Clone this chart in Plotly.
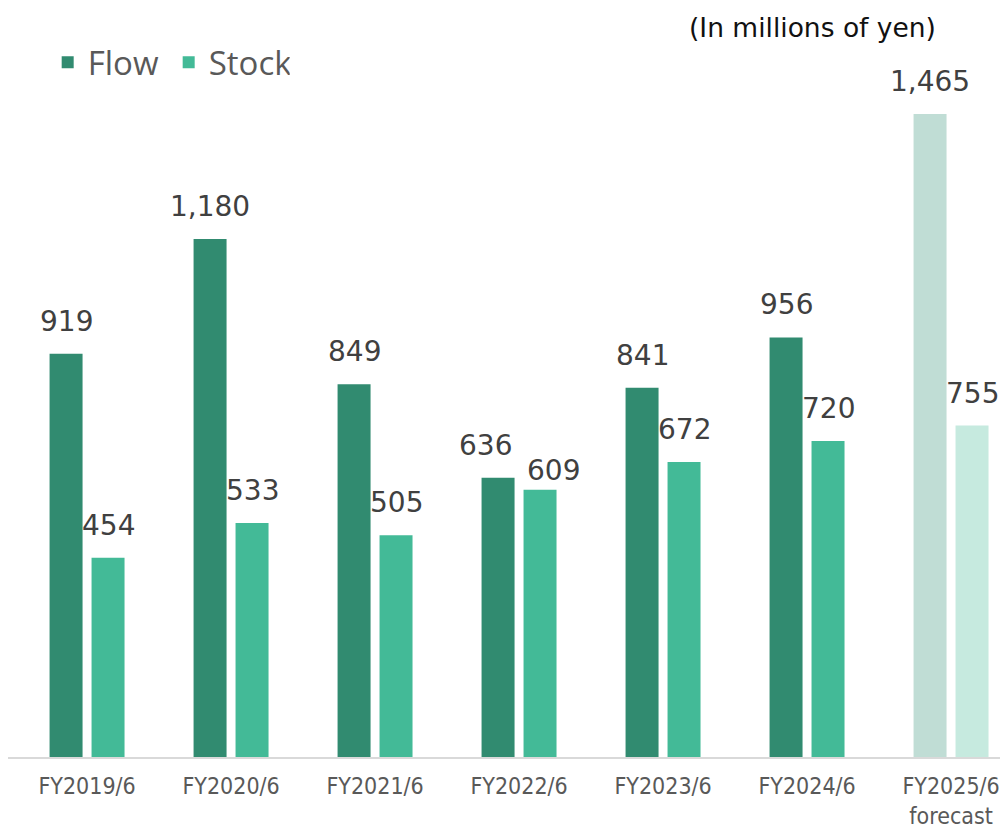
import plotly.graph_objects as go

# values (millions of yen)
years = ['FY2019/6', 'FY2020/6', 'FY2021/6', 'FY2022/6', 'FY2023/6', 'FY2024/6', 'FY2025/6<br>forecast']
flow = [919, 1180, 849, 636, 841, 956, 1465]
stock = [454, 533, 505, 609, 672, 720, 755]

FLOW_COL = '#318B70'
STOCK_COL = '#43BA97'
FLOW_FC = '#C0DDD5'  # forecast year is drawn lighter
STOCK_FC = '#C6EADF'

flow_colors = [FLOW_COL] * (len(years) - 1) + [FLOW_FC]
stock_colors = [STOCK_COL] * (len(years) - 1) + [STOCK_FC]

fig = go.Figure()
fig.add_trace(go.Bar(x=years, y=flow, name='Flow', marker_color=flow_colors, marker_line_width=0))
fig.add_trace(go.Bar(x=years, y=stock, name='Stock', marker_color=stock_colors, marker_line_width=0))

# value labels above each bar
for i in range(len(years)):
    nudge = 0
    if abs(flow[i] - stock[i]) < 60:  # labels of near-equal bars would collide, push them apart
        nudge = 13
    fig.add_annotation(x=years[i], y=flow[i], text='{:,}'.format(flow[i]), showarrow=False,
                       xshift=-21 - nudge, yshift=14, yanchor='bottom',
                       font=dict(family='DejaVu Sans', size=28, color='#404040'))
    fig.add_annotation(x=years[i], y=stock[i], text='{:,}'.format(stock[i]), showarrow=False,
                       xshift=21 + nudge, yshift=14 - nudge, yanchor='bottom',
                       font=dict(family='DejaVu Sans', size=28, color='#404040'))

fig.add_annotation(xref='paper', yref='paper', x=0.938, y=1.046, xanchor='right', yanchor='middle',
                   text='(In millions of yen)', showarrow=False,
                   font=dict(family='DejaVu Sans', size=26.5, color='#111111'))

fig.update_layout(
    width=1000, height=825,
    margin=dict(l=8, r=0, t=60, b=68),
    plot_bgcolor='white', paper_bgcolor='white',
    barmode='group', bargap=0.417, bargroupgap=0.214,
    showlegend=True,
    legend=dict(orientation='h', x=0.040, y=1.037, xanchor='left', yanchor='top',
                font=dict(family='Open Sans', size=33, color='#595959'),
                bgcolor='rgba(0,0,0,0)', itemwidth=30, entrywidth=76),
)
fig.update_xaxes(range=[-0.549, 6.34], showline=True, linecolor='#D9D9D9', linewidth=2,
                 ticks='', ticklabelstandoff=7, automargin=False,
                 tickfont=dict(family='DejaVu Sans Condensed', size=23, color='#595959'),
                 showgrid=False)
fig.update_yaxes(range=[0, 1588], visible=False, showgrid=False, zeroline=False)

# drop the default 8px body margin so the 1000x825 figure fills the window exactly
fig.write_html("out.html", config={'displayModeBar': False},
               post_script="document.body.style.margin='0';")
